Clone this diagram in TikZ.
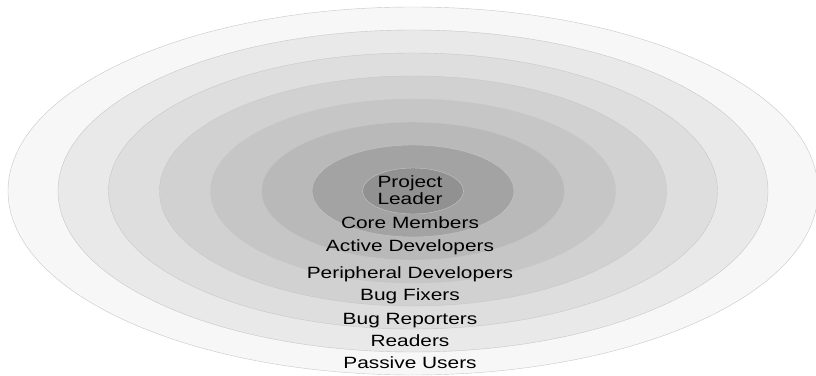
\documentclass[tikz,border=0pt]{standalone}
\usepackage{fontspec}
\usepackage{tikz}
\usepackage{xcolor}

\newfontfamily\ringfont[FakeStretch=1.28]{Liberation Sans}

\definecolor{ring1}{gray}{0.57}
\definecolor{ring2}{gray}{0.64}
\definecolor{ring3}{gray}{0.725}
\definecolor{ring4}{gray}{0.775}
\definecolor{ring5}{gray}{0.82}
\definecolor{ring6}{gray}{0.87}
\definecolor{ring7}{gray}{0.915}
\definecolor{ring8}{gray}{0.97}

\begin{document}
\begin{tikzpicture}[x=1pt, y=1pt,
    every node/.style={font=\ringfont\fontsize{16.3}{17}\selectfont, inner sep=0pt, outer sep=0pt},
    ring/.style={draw=black!22, line width=0.4pt}]
    \useasboundingbox (0,0) rectangle (816,375);

    % Rings, outermost first
    \draw[ring, fill=ring8] (413,184) ellipse [x radius=405pt, y radius=184pt];
    \draw[ring, fill=ring7] (413,184) ellipse [x radius=355pt, y radius=161pt];
    \draw[ring, fill=ring6] (413,184) ellipse [x radius=304.5pt, y radius=138pt];
    \draw[ring, fill=ring5] (413,184) ellipse [x radius=253.5pt, y radius=115pt];
    \draw[ring, fill=ring4] (413,184) ellipse [x radius=202.5pt, y radius=92pt];
    \draw[ring, fill=ring3] (413,184) ellipse [x radius=151.5pt, y radius=69pt];
    \draw[ring, fill=ring2] (413,184) ellipse [x radius=101pt, y radius=46pt];
    \draw[ring, fill=ring1] (413,184) ellipse [x radius=50.5pt, y radius=23pt];

    % Labels
    \node[align=center] (leader) at (410,184.5) {Project\\Leader};
    \node[anchor=base] (core) at (410,146.7) {Core Members};
    \node[anchor=base] (active) at (410,123.3) {Active Developers};
    \node[anchor=base] (peripheral) at (410,97) {Peripheral Developers};
    \node[anchor=base] (fixers) at (410,74.3) {Bug Fixers};
    \node[anchor=base] (reporters) at (410,51) {Bug Reporters};
    \node[anchor=base] (readers) at (410,29) {Readers};
    \node[anchor=base] (passive) at (410,7) {Passive Users};

\end{tikzpicture}
\end{document}
